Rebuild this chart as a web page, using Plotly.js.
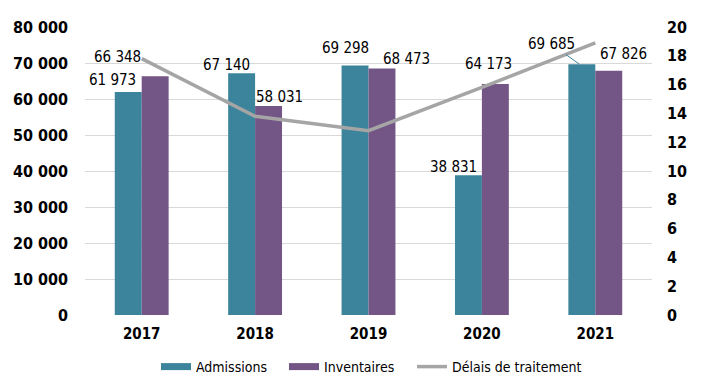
<!DOCTYPE html>
<html>
<head>
<meta charset="utf-8">
<script src="https://cdn.plot.ly/plotly-3.0.1.min.js"></script>
<style>html,body{margin:0;padding:0;background:#fff}#chart{width:702px;height:386px}</style>
</head>
<body>
<div id="chart"></div>
<script>
// Data
const years = ['2017', '2018', '2019', '2020', '2021'];
const admissions = [61973, 67140, 69298, 38831, 69685];
const inventaires = [66348, 58031, 68473, 64173, 67826];
const delais = [17.8, 13.8, 12.8, 15.8, 18.9];
const seriesNames = ['Admissions', 'Inventaires', 'Délais de traitement'];

// Label placement (styling, pixel offsets from bar top)
const admLabelDx = [-16, -15, -10, -15, null];
const admLabelDy = [12, 8, 18, 8, null];
const invLabelDx = [-38, 11, 25, -7, 15];
const invLabelDy = [19, 9, 10, 20, 17];

const TEAL = '#3b849b';
const PURPLE = '#735586';
const GRAY = '#a5a5a5';
const FONT = '"Liberation Sans Narrow", "DejaVu Sans Condensed", Arial Narrow, sans-serif';
const BARGAP = 0.525;
const BAR_OFF = (1 - BARGAP) / 4; // centre offset of each bar in a group, in category units

function fmt(n) { return String(n).replace(/\B(?=(\d{3})+(?!\d))/g, ' '); }

const traces = [
  {type: 'bar', x: years, y: admissions, name: seriesNames[0], marker: {color: TEAL}, showlegend: false},
  {type: 'bar', x: years, y: inventaires, name: seriesNames[1], marker: {color: PURPLE}, showlegend: false},
  {type: 'scatter', mode: 'lines', x: years, y: delais, yaxis: 'y2', name: seriesNames[2],
   line: {color: GRAY, width: 3.5}, showlegend: false},
  // legend swatches (no visible data), one legend each for exact spacing
  {type: 'scatter', mode: 'lines', x: [years[0]], y: [null], name: seriesNames[0], legend: 'legend',
   line: {color: TEAL, width: 7}},
  {type: 'scatter', mode: 'lines', x: [years[0]], y: [null], name: seriesNames[1], legend: 'legend2',
   line: {color: PURPLE, width: 7}},
  {type: 'scatter', mode: 'lines', x: [years[0]], y: [null], name: seriesNames[2], legend: 'legend3',
   line: {color: GRAY, width: 3.5}}
];

const annotations = [];
years.forEach((yr, i) => {
  if (admLabelDx[i] !== null) {
    annotations.push({x: i - BAR_OFF, y: admissions[i], xref: 'x', yref: 'y', text: fmt(admissions[i]),
      showarrow: false, xanchor: 'center', yanchor: 'middle',
      xshift: admLabelDx[i], yshift: admLabelDy[i]});
  } else {
    annotations.push({x: i - BAR_OFF, y: admissions[i], xref: 'x', yref: 'y', text: fmt(admissions[i]),
      showarrow: true, arrowhead: 0, arrowwidth: 1, arrowcolor: TEAL, standoff: 0,
      ax: -28, ay: -20, xshift: -2.5});
  }
  annotations.push({x: i + BAR_OFF, y: inventaires[i], xref: 'x', yref: 'y', text: fmt(inventaires[i]),
    showarrow: false, xanchor: 'center', yanchor: 'middle',
    xshift: invLabelDx[i], yshift: invLabelDy[i]});
});

const legendBase = {orientation: 'h', xanchor: 'left', y: -0.125, yanchor: 'top',
  font: {family: FONT, size: 14, color: '#000'}, bgcolor: 'rgba(0,0,0,0)'};

const layout = {
  width: 702, height: 386,
  margin: {l: 85, r: 50, t: 27, b: 71, autoexpand: false},
  paper_bgcolor: '#fff', plot_bgcolor: '#fff',
  font: {family: FONT, size: 15, color: '#000'},
  separators: ', ',
  barmode: 'group',
  bargap: BARGAP,
  bargroupgap: 0,
  showlegend: true,
  legend: Object.assign({}, legendBase, {x: 0.1252}),
  legend2: Object.assign({}, legendBase, {x: 0.351}),
  legend3: Object.assign({}, legendBase, {x: 0.5767}),
  xaxis: {type: 'category', categoryorder: 'array', categoryarray: years, range: [-0.5, years.length - 0.5],
    showgrid: false, zeroline: false, showline: false, ticks: '',
    tickfont: {family: FONT, size: 15, color: '#000', weight: 'bold'}, ticklabelstandoff: 8},
  yaxis: {range: [0, 80000], dtick: 10000, tickformat: ',d', showgrid: true, gridcolor: '#d9d9d9',
    gridwidth: 1, zeroline: false, showline: false, ticks: '', ticklabelstandoff: 16,
    tickfont: {family: FONT, size: 16, color: '#000', weight: 'bold'}},
  yaxis2: {range: [0, 20], dtick: 2, overlaying: 'y', side: 'right', showgrid: false, zeroline: false,
    showline: false, ticks: '', ticklabelstandoff: 14,
    tickfont: {family: FONT, size: 16, color: '#000', weight: 'bold'}},
  annotations: annotations
};

Plotly.newPlot('chart', traces, layout, {staticPlot: true, displayModeBar: false});
</script>
</body>
</html>
